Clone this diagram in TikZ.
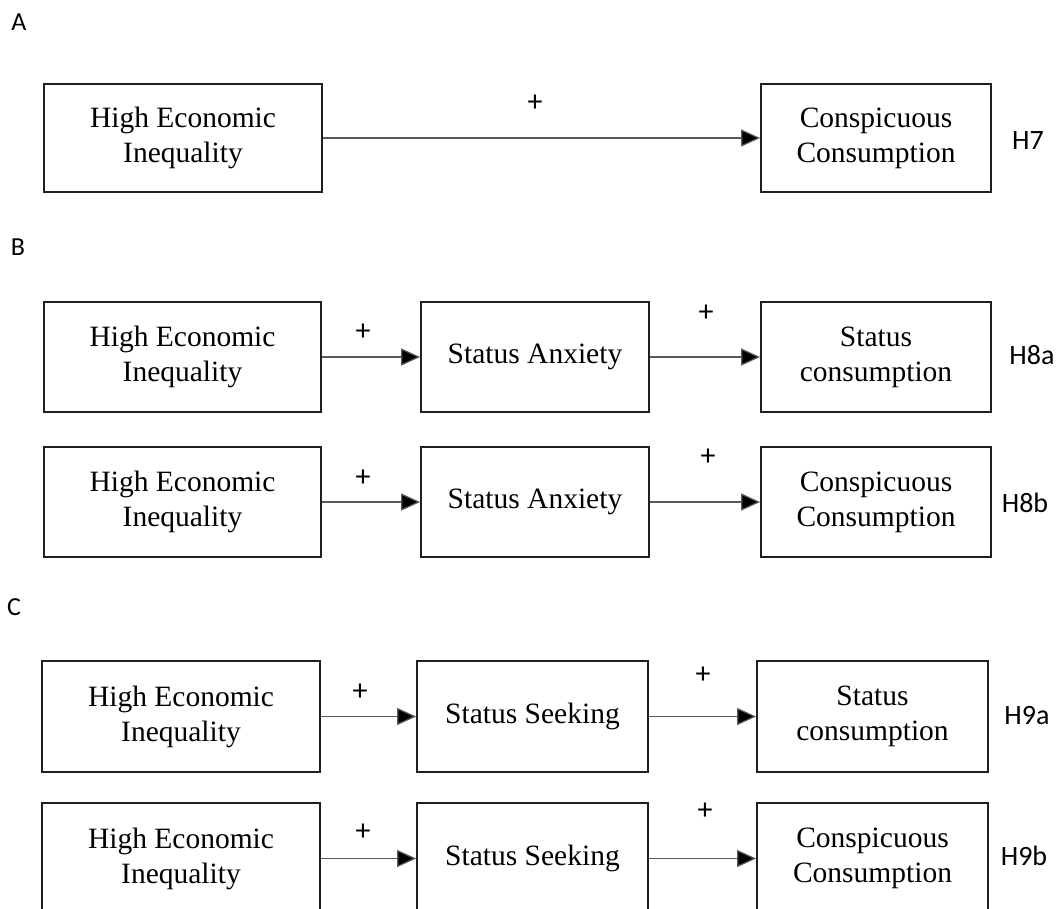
\documentclass[tikz,border=0pt]{standalone}
\usepackage{fontspec}
\setmainfont{Liberation Serif}
\newfontfamily\labelfont{Carlito}
\usetikzlibrary{arrows.meta}

\tikzset{
  box/.style={draw=black!88, line width=1.8pt, align=center, inner sep=0pt,
              font=\fontsize{29.5}{35}\selectfont},
  link/.style={draw=black!65, line width=1.2pt,
               -{Triangle[length=19pt,width=17pt,fill=black]}},
  sign/.style={font=\labelfont\fontsize{30}{34}\selectfont, inner sep=0pt},
  hyp/.style={font=\labelfont\fontsize{28}{32}\selectfont, inner sep=0pt},
  panel/.style={font=\labelfont\fontsize{26}{30}\selectfont, inner sep=0pt},
}

\begin{document}
\begin{tikzpicture}[x=1pt, y=-1pt]
  \useasboundingbox (0,0) rectangle (1059,908);
  \clip (0,0) rectangle (1059,908);

  % Panel A
  \node[panel] (pA) at (19,22) {A};
  \node[box, minimum width=278pt, minimum height=108pt] (a1) at (183,138)
       {High Economic\\Inequality};
  \node[box, minimum width=230pt, minimum height=108pt] (a2) at (876,138)
       {Conspicuous\\Consumption};
  \draw[link] (a1) -- (a2);
  \node[sign] (sa) at (535,103) {+};
  \node[hyp] (h7) at (1028,141) {H7};

  % Panel B
  \node[panel] (pB) at (18,247) {B};
  % B, first chain
  \node[box, minimum width=277pt, minimum height=110pt] (b11) at (182.5,357)
       {High Economic\\Inequality};
  \node[box, minimum width=228pt, minimum height=110pt] (b12) at (535,357)
       {Status Anxiety};
  \node[box, minimum width=230pt, minimum height=110pt] (b13) at (876,357)
       {Status\\consumption};
  \draw[link] (b11) -- (b12);
  \draw[link] (b12) -- (b13);
  \node[sign] (sb11) at (363,332) {+};
  \node[sign] (sb12) at (706,313) {+};
  \node[hyp] (h8a) at (1032,355) {H8a};
  % B, second chain
  \node[box, minimum width=277pt, minimum height=110pt] (b21) at (182.5,502)
       {High Economic\\Inequality};
  \node[box, minimum width=228pt, minimum height=110pt] (b22) at (535,502)
       {Status Anxiety};
  \node[box, minimum width=230pt, minimum height=110pt] (b23) at (876,502)
       {Conspicuous\\Consumption};
  \draw[link] (b21) -- (b22);
  \draw[link] (b22) -- (b23);
  \node[sign] (sb21) at (363,478) {+};
  \node[sign] (sb22) at (708,457) {+};
  \node[hyp] (h8b) at (1025,503) {H8b};

  % Panel C
  \node[panel] (pC) at (14,607) {C};
  % C, first chain
  \node[box, minimum width=278pt, minimum height=111pt] (c11) at (181,716.5)
       {High Economic\\Inequality};
  \node[box, minimum width=231pt, minimum height=111pt] (c12) at (532.5,716.5)
       {Status Seeking};
  \node[box, minimum width=231pt, minimum height=111pt] (c13) at (872.5,716.5)
       {Status\\consumption};
  \draw[link] (c11) -- (c12);
  \draw[link] (c12) -- (c13);
  \node[sign] (sc11) at (360,692) {+};
  \node[sign] (sc12) at (703,675) {+};
  \node[hyp] (h9a) at (1027,716) {H9a};
  % C, second chain (runs past the lower edge)
  \node[box, minimum width=278pt, minimum height=111pt] (c21) at (181,858.5)
       {High Economic\\Inequality};
  \node[box, minimum width=231pt, minimum height=111pt] (c22) at (532.5,858.5)
       {Status Seeking};
  \node[box, minimum width=231pt, minimum height=111pt] (c23) at (872.5,858.5)
       {Conspicuous\\Consumption};
  \draw[link] (c21) -- (c22);
  \draw[link] (c22) -- (c23);
  \node[sign] (sc21) at (363,832) {+};
  \node[sign] (sc22) at (705,811) {+};
  \node[hyp] (h9b) at (1024,856) {H9b};
\end{tikzpicture}
\end{document}
